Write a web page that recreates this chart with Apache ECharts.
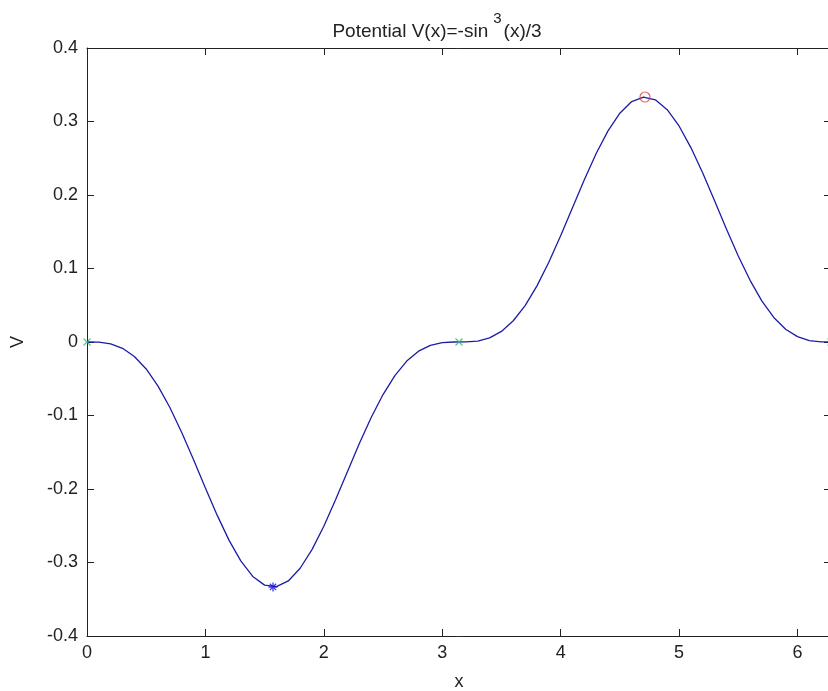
<!DOCTYPE html>
<html>
<head>
<meta charset="utf-8">
<script src="https://cdn.jsdelivr.net/npm/echarts@6/dist/echarts.min.js"></script>
<style>
  html, body { margin: 0; padding: 0; background: #ffffff; }
  #chart { width: 828px; height: 691px; }
</style>
</head>
<body>
<div id="chart"></div>
<script>
// Sample positions along x and the potential V at each of them
const xs = [0, 0.1, 0.2, 0.3, 0.4, 0.5, 0.6, 0.7, 0.8, 0.9,
  1.0, 1.1, 1.2, 1.3, 1.4, 1.5, 1.6, 1.7, 1.8, 1.9,
  2.0, 2.1, 2.2, 2.3, 2.4, 2.5, 2.6, 2.7, 2.8, 2.9,
  3.0, 3.1, 3.2, 3.3, 3.4, 3.5, 3.6, 3.7, 3.8, 3.9,
  4.0, 4.1, 4.2, 4.3, 4.4, 4.5, 4.6, 4.7, 4.8, 4.9,
  5.0, 5.1, 5.2, 5.3, 5.4, 5.5, 5.6, 5.7, 5.8, 5.9,
  6.0, 6.1, 6.2, 6.2832];
const vs = [0, -0.0003, -0.0026, -0.0086, -0.0197, -0.0367, -0.0600, -0.0891, -0.1231, -0.1602,
  -0.1986, -0.2359, -0.2699, -0.2982, -0.3190, -0.3308, -0.3329, -0.3251, -0.3078, -0.2825,
  -0.2506, -0.2144, -0.1762, -0.1382, -0.1027, -0.0715, -0.0457, -0.0260, -0.0125, -0.0046,
  -0.0009, 0.0000, 0.0001, 0.0013, 0.0056, 0.0144, 0.0289, 0.0496, 0.0764, 0.1085,
  0.1445, 0.1826, 0.2207, 0.2564, 0.2872, 0.3113, 0.3271, 0.3333, 0.3295, 0.3161,
  0.2939, 0.2645, 0.2299, 0.1922, 0.1538, 0.1170, 0.0839, 0.0557, 0.0334, 0.0174,
  0.0073, 0.0020, 0.0002, 0];

// Equilibrium points
const flatX = [0, 3.1416, 6.2832];
const flatV = [0, 0, 0];
const minX = [1.5708];
const minV = [-0.3333];
const maxX = [4.7124];
const maxV = [0.3333];

// Tick labels
const xTicks = [0, 1, 2, 3, 4, 5, 6];
const yTicks = [-0.4, -0.3, -0.2, -0.1, 0, 0.1, 0.2, 0.3, 0.4];

const zip = (a, b) => a.map((v, i) => [v, b[i]]);

const FONT = '"Liberation Sans", Arial, Helvetica, sans-serif';
const INK = '#222222';
const LINE_BLUE = '#1c1ca8';
const FS = 18;

const crossPath = 'path://M0,0L10,10M10,0L0,10';
const starPath = 'path://M5,0L5,10M0,5L10,5M1.5,1.5L8.5,8.5M8.5,1.5L1.5,8.5';

const axisCommon = {
  type: 'value',
  axisLine: { show: true, onZero: false, lineStyle: { color: INK, width: 1 } },
  axisTick: { show: true, inside: true, length: 7, lineStyle: { color: INK, width: 1 } },
  splitLine: { show: false }
};

const chart = echarts.init(document.getElementById('chart'), null, { renderer: 'canvas' });

chart.setOption({
  animation: false,
  backgroundColor: '#ffffff',
  title: {
    text: '{a|Potential V(x)=-sin}{sup|3}{a|(x)/3}',
    left: 432,
    textAlign: 'center',
    top: 6,
    textStyle: {
      fontFamily: FONT, fontSize: 19, fontWeight: 'normal', color: INK,
      rich: {
        a: { fontFamily: FONT, fontSize: 19, color: INK, lineHeight: 30, verticalAlign: 'bottom' },
        sup: { fontFamily: FONT, fontSize: 15, color: INK, lineHeight: 28, verticalAlign: 'top', padding: [0, 2, 0, 5] }
      }
    }
  },
  grid: { left: 87, right: -3, top: 48, bottom: 55, containLabel: false, outerBoundsMode: 'none' },
  xAxis: [
    Object.assign({}, axisCommon, {
      position: 'bottom',
      min: 0, max: 6.2832,
      name: 'x',
      nameLocation: 'middle',
      nameGap: 37,
      nameTextStyle: { fontFamily: FONT, fontSize: FS, color: INK },
      axisTick: Object.assign({}, axisCommon.axisTick, { customValues: xTicks }),
      axisLabel: { customValues: xTicks, margin: 8, fontFamily: FONT, fontSize: FS, color: INK }
    }),
    Object.assign({}, axisCommon, {
      position: 'top',
      min: 0, max: 6.2832,
      axisTick: Object.assign({}, axisCommon.axisTick, { customValues: xTicks }),
      axisLabel: { show: false }
    })
  ],
  yAxis: [
    Object.assign({}, axisCommon, {
      position: 'left',
      min: -0.4, max: 0.4, interval: 0.1,
      name: 'V',
      nameLocation: 'middle',
      nameGap: 60,
      nameRotate: 90,
      nameTextStyle: { fontFamily: FONT, fontSize: FS, color: INK },
      axisTick: Object.assign({}, axisCommon.axisTick, { customValues: yTicks }),
      axisLabel: {
        customValues: yTicks, margin: 9, fontFamily: FONT, fontSize: FS, color: INK,
        formatter: v => (Math.abs(v) < 1e-9 ? '0' : String(Math.round(v * 10) / 10))
      }
    }),
    Object.assign({}, axisCommon, {
      position: 'right',
      min: -0.4, max: 0.4, interval: 0.1,
      axisTick: Object.assign({}, axisCommon.axisTick, { customValues: yTicks }),
      axisLabel: { show: false }
    })
  ],
  series: [
    {
      type: 'line',
      data: zip(xs, vs),
      showSymbol: false,
      symbol: 'none',
      smooth: false,
      lineStyle: { color: LINE_BLUE, width: 1.3 },
      z: 2
    },
    {
      type: 'scatter',
      data: zip(flatX, flatV),
      symbol: crossPath,
      symbolSize: 7,
      itemStyle: { color: 'transparent', borderColor: '#2fb86a', borderWidth: 1.2 },
      z: 3
    },
    {
      type: 'scatter',
      data: zip(minX, minV),
      symbol: starPath,
      symbolSize: 9,
      itemStyle: { color: 'transparent', borderColor: '#1010e0', borderWidth: 1.3 },
      z: 3
    },
    {
      type: 'scatter',
      data: zip(maxX, maxV),
      symbol: 'circle',
      symbolSize: 10,
      itemStyle: { color: 'transparent', borderColor: '#e03c3c', borderWidth: 1.2 },
      z: 3
    }
  ]
});
</script>
</body>
</html>
